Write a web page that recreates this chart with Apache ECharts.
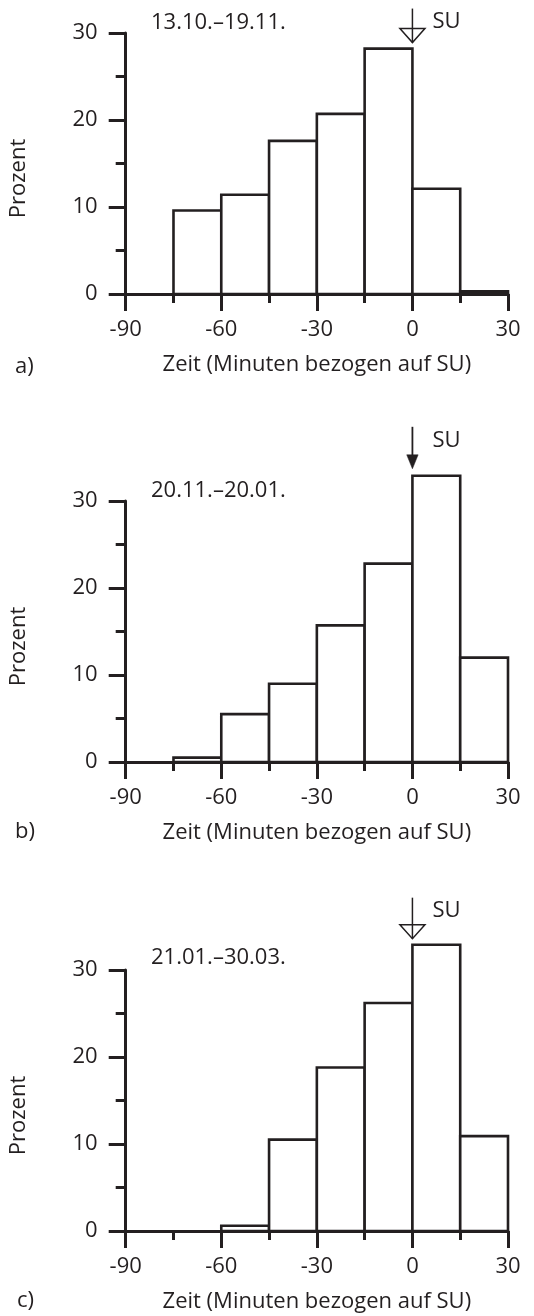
<!DOCTYPE html>
<html><head><meta charset="utf-8">
<script src="https://cdn.jsdelivr.net/npm/echarts@6/dist/echarts.min.js"></script>
<style>html,body{margin:0;padding:0;background:#fff}#c{width:534px;height:1316px}</style>
</head><body><div id="c"></div>
<script>
// ---- data ----
const binStarts = [-90, -75, -60, -45, -30, -15, 0, 15];
const binWidth = 15;
const valuesA = [0, 9.6, 11.4, 17.6, 20.7, 28.2, 12.1, 0.3];
const valuesB = [0, 0.5, 5.5, 9.0, 15.7, 22.8, 32.9, 12.0];
const valuesC = [0, 0, 0.6, 10.5, 18.8, 26.2, 32.9, 10.9];
const periodLabels = ['13.10.–19.11.', '20.11.–20.01.', '21.01.–30.03.'];
const panelLabels = ['a)', 'b)', 'c)'];
const xTickLabels = [-90, -60, -30, 0, 30];
const yTickLabels = [0, 10, 20, 30];
const sunsetLabel = 'SU';
const sunsetTime = 0;
const sunsetArrowTip = [28.9, 33.7, 33.6];
const sunsetArrowKind = ['open', 'filled', 'open'];
const xAxisName = 'Zeit (Minuten bezogen auf SU)';
const yAxisName = 'Prozent';

// ---- layout / style ----
const INK = '#231f20';
const FONT = 'Open Sans';
const FS = 22;
const gridTops = [33, 501, 970];
const gridH = 261;
const gridLeft = 125;
const gridW = 383;
const dateTops = [11.5, 479.5, 946.5];
const panelTops = [356, 820.5, 1290];
const panelLefts = [15, 15, 17];
const arrowLen = [34, 42, 41];

const allValues = [valuesA, valuesB, valuesC];

const chart = echarts.init(document.getElementById('c'), null, {renderer: 'canvas'});

const grids = [], xAxes = [], yAxes = [], series = [], titles = [];

function renderBar(params, api) {
  const start = api.value(0), v = api.value(1);
  if (!v) return {type: 'group', children: []};
  const p0 = api.coord([start, v]);
  const p1 = api.coord([start + binWidth, 0]);
  return {
    type: 'rect',
    shape: {x: p0[0], y: p0[1], width: p1[0] - p0[0], height: p1[1] - p0[1]},
    style: {fill: '#fff', stroke: INK, lineWidth: 2.6}
  };
}

function makeArrow(i) {
  const kind = sunsetArrowKind[i];
  const len = arrowLen[i];
  return function (params, api) {
    const tip = api.coord([api.value(0), api.value(1)]);
    const x = tip[0], y = tip[1];
    const top = y - len;
    const children = [];
    if (kind === 'open') {
      children.push({type: 'line', shape: {x1: x, y1: top, x2: x, y2: y},
        style: {stroke: INK, lineWidth: 1.5}});
      children.push({type: 'polygon', shape: {points: [[x - 12.5, y - 14], [x + 12.5, y - 14], [x, y]]},
        style: {fill: 'none', stroke: INK, lineWidth: 1.5}});
    } else {
      children.push({type: 'line', shape: {x1: x, y1: top, x2: x, y2: y - 12},
        style: {stroke: INK, lineWidth: 1.8}});
      children.push({type: 'polygon', shape: {points: [[x - 5.7, y - 14], [x + 5.7, y - 14], [x, y]]},
        style: {fill: INK, stroke: INK, lineWidth: 0.5}});
    }
    children.push({type: 'text', x: x + 20, y: top + 13.5,
      style: {text: sunsetLabel, font: FS + 'px "' + FONT + '"', fill: INK, align: 'left', verticalAlign: 'middle'}});
    return {type: 'group', children: children};
  };
}

for (let i = 0; i < 3; i++) {
  grids.push({left: gridLeft, top: gridTops[i], width: gridW, height: gridH, containLabel: false});
  xAxes.push({
    type: 'value', gridIndex: i, min: -90, max: 30, interval: 30,
    name: xAxisName, nameLocation: 'middle', nameGap: 71,
    nameTextStyle: {fontFamily: FONT, fontSize: FS, color: INK, verticalAlign: 'middle', lineHeight: FS},
    axisLine: {show: true, onZero: false, lineStyle: {color: INK, width: 3}},
    axisTick: {show: true, inside: false, length: 17, lineStyle: {color: INK, width: 3}},
    minorTick: {show: true, splitNumber: 2, length: 9, lineStyle: {color: INK, width: 3}},
    splitLine: {show: false}, minorSplitLine: {show: false},
    axisLabel: {show: true, margin: 25, fontFamily: FONT, fontSize: FS, color: INK, lineHeight: FS,
      showMinLabel: true, showMaxLabel: true,
      formatter: function (v) { return xTickLabels.indexOf(v) >= 0 ? String(v) : ''; }},
    z: 3
  });
  yAxes.push({
    type: 'value', gridIndex: i, min: 0, max: 30, interval: 10,
    name: yAxisName, nameLocation: 'middle', nameGap: 106.7, nameRotate: 90,
    nameTextStyle: {fontFamily: FONT, fontSize: FS, color: INK, verticalAlign: 'middle', lineHeight: FS,
      padding: [0, 30, 0, 0]},
    axisLine: {show: true, onZero: false, lineStyle: {color: INK, width: 3}},
    axisTick: {show: true, inside: false, length: 17, lineStyle: {color: INK, width: 3}},
    minorTick: {show: true, splitNumber: 2, length: 10, lineStyle: {color: INK, width: 3}},
    splitLine: {show: false}, minorSplitLine: {show: false},
    axisLabel: {show: true, margin: 28, fontFamily: FONT, fontSize: FS, color: INK, lineHeight: FS,
      showMinLabel: true, showMaxLabel: true,
      formatter: function (v) { return yTickLabels.indexOf(v) >= 0 ? String(v) : ''; }},
    z: 3
  });
  series.push({
    type: 'custom', xAxisIndex: i, yAxisIndex: i, clip: false, z: 2,
    renderItem: renderBar,
    encode: {x: 0, y: 1},
    data: binStarts.map(function (s, k) { return [s, allValues[i][k]]; })
  });
  series.push({
    type: 'custom', xAxisIndex: i, yAxisIndex: i, clip: false, z: 4,
    renderItem: makeArrow(i),
    encode: {x: 0, y: 1},
    data: [[sunsetTime, sunsetArrowTip[i]]]
  });
  titles.push({text: periodLabels[i], left: 151, top: dateTops[i], padding: 0,
    textStyle: {fontFamily: FONT, fontSize: FS, fontWeight: 'normal', color: INK, lineHeight: FS}});
  titles.push({text: panelLabels[i], left: panelLefts[i], top: panelTops[i], padding: 0,
    textStyle: {fontFamily: FONT, fontSize: FS, fontWeight: 'normal', color: INK, lineHeight: FS}});
}

chart.setOption({
  animation: false,
  backgroundColor: '#fff',
  title: titles,
  grid: grids,
  xAxis: xAxes,
  yAxis: yAxes,
  series: series
});
</script></body></html>
